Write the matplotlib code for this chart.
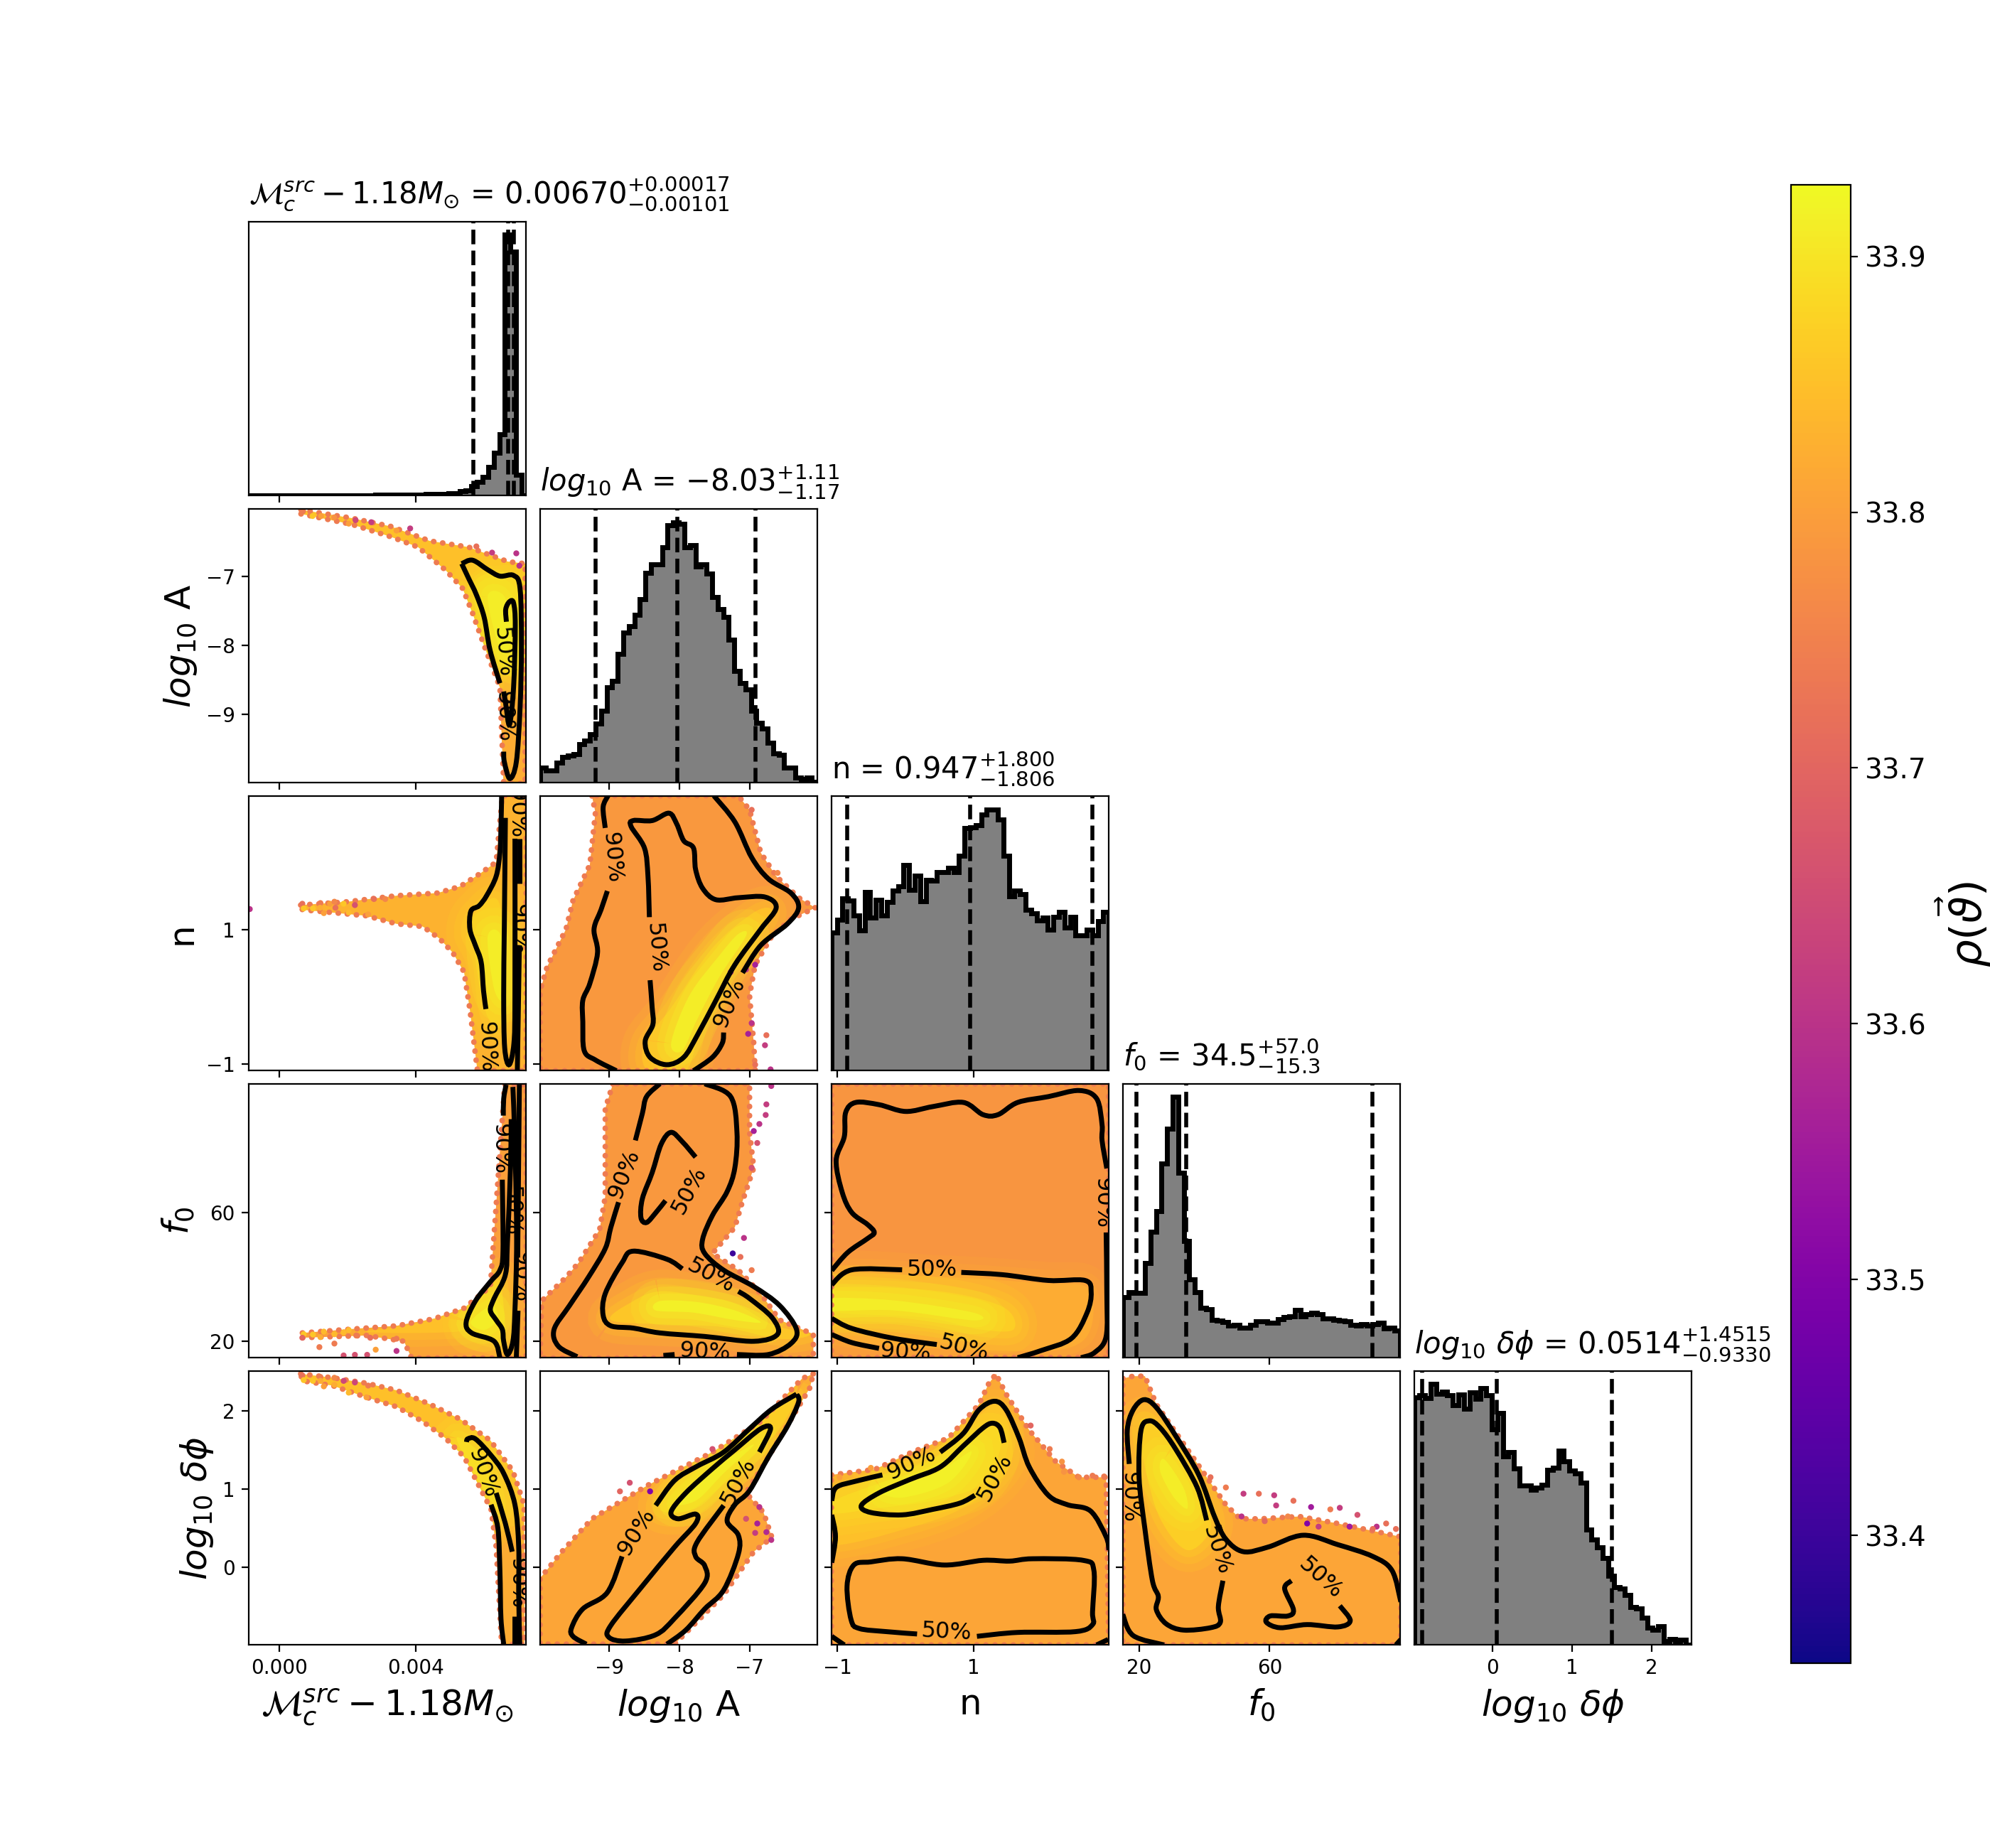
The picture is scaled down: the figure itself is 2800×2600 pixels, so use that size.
import numpy as np
import matplotlib
matplotlib.use("Agg")
import matplotlib.pyplot as plt
from matplotlib.path import Path
from matplotlib.patches import PathPatch, Polygon
from matplotlib.cm import ScalarMappable
from matplotlib.colors import Normalize

# ---------- axes ----------
names = [r"$\mathcal{M}_c^{src} - 1.18 M_{\odot}$", r"$log_{10}$ A", "n", r"$f_0$", r"$log_{10}\ \delta\phi$"]
limits = [(-0.0009, 0.00723), (-9.99, -6.03), (-1.09, 2.99), (15.0, 100.0), (-0.987, 2.505)]
ticks = [[0.0, 0.004], [-9, -8, -7], [-1, 1], [20, 60], [0, 1, 2]]
ticklabels = [["0.000", "0.004"], ["\u22129", "\u22128", "\u22127"], ["\u22121", "1"], ["20", "60"], ["0", "1", "2"]]
ylabel_x = [None, -0.18, -0.18, -0.19, -0.12]
titles = [r"$\mathcal{M}_c^{src} - 1.18 M_{\odot}$ = $0.00670^{+0.00017}_{-0.00101}$",
          r"$log_{10}$ A = $-8.03^{+1.11}_{-1.17}$",
          r"n = $0.947^{+1.800}_{-1.806}$",
          r"$f_0$ = $34.5^{+57.0}_{-15.3}$",
          r"$log_{10}\ \delta\phi$ = $0.0514^{+1.4515}_{-0.9330}$"]
quantiles = [[0.00569, 0.00670, 0.00687], [-9.20, -8.03, -6.92], [-0.859, 0.947, 2.747],
             [19.2, 34.5, 91.5], [-0.8816, 0.0514, 1.5029]]
rho_min, rho_max = 33.35, 33.928

# ---------- 1D histograms (bin counts) ----------
hist_Mc = [0]*23 + [1]*9 + [3, 3, 3, 3, 6, 6, 10, 12, 23, 33, 45, 70, 105, 150, 643, 602, 50, 0]
hist_Mc_range = (-0.00101, 0.00727)
hist_A = [38, 31, 31, 50, 63, 67, 70, 95, 103, 120, 145, 177, 235, 250, 318, 370, 385, 413, 452, 517, 538, 538, 580,
          635, 642, 638, 580, 585, 532, 538, 515, 457, 428, 408, 352, 275, 245, 230, 177, 147, 133, 98, 73, 68, 38,
          38, 13, 9, 13, 3]
hist_n = [345, 378, 431, 426, 388, 350, 446, 383, 428, 388, 421, 450, 461, 514, 453, 488, 424, 478, 476, 497, 497,
          508, 497, 538, 607, 610, 615, 641, 654, 654, 628, 538, 436, 451, 441, 403, 393, 375, 383, 353, 385, 397,
          358, 385, 338, 338, 353, 338, 373, 397]
hist_f0 = [151, 164, 161, 161, 236, 314, 366, 486, 573, 653, 463, 291, 196, 164, 124, 121, 94, 93, 88, 79, 81, 74,
           74, 81, 91, 91, 87, 87, 96, 101, 103, 118, 103, 108, 111, 108, 98, 98, 94, 93, 91, 81, 79, 84, 80, 83, 86,
           73, 75, 68]
hist_phi = [922, 930, 920, 972, 935, 945, 930, 893, 933, 880, 942, 917, 957, 930, 803, 865, 703, 718, 658, 595, 593,
            577, 587, 597, 652, 660, 725, 683, 650, 638, 605, 430, 393, 362, 323, 257, 215, 210, 185, 140, 135, 102,
            63, 55, 70, 13, 20, 8, 18, 0]

# ---------- sample-cloud outlines (x, y in data units) with mean rho ----------
A_Mc_env = [(.00063, -6.04), (.00211, -6.16), (.00326, -6.28), (.0044, -6.49), (.00554, -6.58), (.00669, -6.79), (.0072, -6.82),
            (.0072, -10), (.00657, -10), (.00646, -8.61), (.006, -8.01), (.00566, -7.54), (.00537, -7.18), (.00486, -6.91),
            (.00406, -6.58), (.00326, -6.43), (.00211, -6.25), (.00063, -6.1)]
A_Mc_low = [(.00657, -8.6), (.0072, -8.6), (.0072, -10.1), (.00657, -10.1)]
A_Mc_core = [(.0057, -7.1), (.0063, -6.95), (.007, -7.1), (.007, -8.3), (.0066, -8.4), (.0062, -7.9), (.006, -7.5)]
A_Mc_hot = [(.0061, -7.3), (.0066, -7.3), (.0068, -7.9), (.0065, -8.1)]
n_Mc_env = [(.00062, 1.37), (.00199, 1.42), (.00343, 1.51), (.00464, 1.55), (.0053, 1.65), (.00585, 1.83), (.00635, 2.01),
            (.00653, 3.0), (.00723, 3.0), (.00723, -1.1), (.0058, -1.1), (.00558, -.19), (.00541, .37), (.00508, .66),
            (.00469, .87), (.0042, 1.05), (.00343, 1.09), (.00255, 1.21), (.00067, 1.3)]
n_Mc_core = [(.00574, 1.26), (.00646, 1.37), (.00653, -.34), (.00607, -.26), (.00585, .55), (.00552, .94)]
n_Mc_hot = [(.0061, .9), (.0065, .9), (.0066, 0), (.0063, .1)]
f0_Mc_env = [(.00067, 22.6), (.00199, 23.7), (.00343, 24.8), (.00453, 27), (.00541, 30.3), (.00618, 37), (.0066, 99.7),
             (.00723, 99.7), (.00723, 14.8), (.00387, 14.8), (.00365, 20), (.00255, 21.8), (.00067, 21.1)]
f0_Mc_tail = [(.00255, 23), (.00387, 25.2), (.0053, 28.9), (.00552, 23.7), (.00419, 22.6)]
f0_Mc_core = [(.00547, 28.9), (.00607, 35.5), (.0064, 39.2), (.00653, 34.8), (.00662, 20), (.00629, 20), (.00552, 23)]
f0_Mc_hot = [(.0056, 26), (.0062, 31), (.0064, 27), (.006, 23.5)]
phi_Mc_env = [(.00062, 2.47), (.00155, 2.42), (.00255, 2.35), (.00343, 2.26), (.00442, 2.08), (.0053, 1.89), (.00618, 1.62),
              (.00684, 1.23), (.00717, .8), (.00717, -.98), (.00651, -.98), (.00635, .26), (.0062, .74), (.00541, 1.41),
              (.00486, 1.65), (.0042, 1.86), (.00343, 2.05), (.00255, 2.17), (.00155, 2.32), (.00067, 2.38)]
phi_Mc_low = [(.00645, 0.2), (.00717, 0.2), (.00717, -1.0), (.00645, -1.0)]
phi_Mc_core = [(.00519, 1.65), (.00585, 1.47), (.00629, 1.08), (.0064, .74), (.00574, 1.17)]

n_A_env = [(-9.25, 3.0), (-9.2, 2.75), (-9.28, 1.97), (-9.52, 1.44), (-9.62, 1.01), (-9.89, .45), (-9.99, .09), (-9.99, -1.1),
           (-6.92, -1.1), (-6.94, -.69), (-7.0, .02), (-6.92, .48), (-6.68, .91), (-6.41, 1.16), (-6.06, 1.33), (-6.3, 1.48),
           (-6.62, 1.8), (-6.84, 2.15), (-7.0, 2.79), (-7.16, 3.0)]
n_A_core = [(-8.45, -1.1), (-8.5, -.69), (-8.12, -.16), (-7.53, .73), (-6.94, 1.26), (-6.68, 1.3), (-6.78, 1.01), (-7.32, .37),
            (-7.69, -.41), (-7.91, -1.1)]
n_A_hot = [(-8.12, -.69), (-7.86, .02), (-7.43, .62), (-7.16, .94), (-7.05, .91), (-7.43, .3), (-7.75, -.34), (-7.96, -.8)]
f0_A_env = [(-8.95, 100), (-9.06, 92.3), (-9.06, 79), (-9.06, 65), (-9.14, 54.7), (-9.44, 44.4), (-9.62, 39.9), (-9.97, 32.5),
            (-9.99, 14.8), (-6.09, 14.8), (-6.09, 22.2), (-6.57, 26.6), (-6.84, 34.8), (-7.16, 42.1), (-7.53, 47.3),
            (-7.21, 55.4), (-7.1, 63.5), (-6.94, 73.9), (-7.0, 85), (-7.0, 100)]
f0_A_core = [(-8.98, 26.6), (-8.66, 32.5), (-8.28, 35.5), (-7.69, 34), (-7.21, 31.8), (-6.68, 25.2), (-6.14, 22.2), (-6.57, 20.7),
             (-7.37, 24.4), (-8.18, 25.2)]
f0_A_hot = [(-8.28, 32.5), (-7.75, 32.2), (-7.21, 29.6), (-6.84, 25.9), (-7.21, 26.6), (-7.8, 28.9), (-8.34, 29.6)]
phi_A_env = [(-6.09, 2.47), (-6.25, 2.41), (-6.84, 1.86), (-7.53, 1.47), (-8.45, 1.05), (-9.25, .62), (-9.68, .2), (-9.99, -.14),
             (-9.99, -.98), (-8.07, -.98), (-7.37, -.35), (-6.94, .2), (-6.68, .38), (-6.8, .7), (-7.05, .95), (-6.73, 1.41),
             (-6.14, 2.29)]
phi_A_core = [(-6.33, 2.21), (-6.84, 1.86), (-7.43, 1.44), (-8.07, 1.05), (-8.28, .74), (-7.91, .71), (-7.59, .89), (-7.0, 1.38),
              (-6.57, 1.77)]
phi_A_hot = [(-7.59, 1.23), (-7.96, .95), (-8.07, .8), (-7.75, .86), (-7.37, 1.2), (-6.94, 1.56), (-7.21, 1.44)]

f0_n_env = [(-1.09, 15), (2.99, 15), (2.99, 100), (-1.09, 100)]
f0_n_mid = [(-1.2, 40), (0.5, 40), (2.0, 38), (2.7, 36), (2.6, 20), (1.5, 17), (-1.2, 22)]
f0_n_core = [(-1.2, 36.4), (.4, 35.8), (1.42, 30.8), (1.59, 23.7), (1.08, 23.7), (.29, 27.4), (-1.2, 29.5)]
f0_n_hot = [(-1.2, 33.3), (-.17, 32.7), (1, 28.9), (1, 26.5), (-.17, 29.6), (-1.2, 29.6)]
phi_n_env = [(-1.09, 1.18), (-.45, 1.25), (.12, 1.48), (.63, 1.65), (1.08, 2.08), (1.22, 2.34), (1.33, 2.47), (1.48, 2.21),
             (1.82, 1.75), (2.21, 1.35), (2.55, 1.15), (2.95, 1.15), (2.99, -.99), (-1.09, -.99)]
phi_n_mid = [(-1.2, .89), (-.34, 1.15), (.51, 1.45), (1.14, 1.98), (1.36, 2.08), (1.53, 1.75), (1.53, 1.28), (.97, .82), (.12, .52),
             (-1.2, .29)]
phi_n_core = [(-1.05, .85), (-.34, 1.09), (.51, 1.35), (1.14, 1.78), (1.42, 1.65), (1.14, 1.08), (.4, .85), (-.45, .75), (-1.05, .69)]
phi_n_hot = [(-.34, .99), (.4, 1.18), (.97, 1.48), (.63, 1.08), (-.05, .89)]
phi_f0_env = [(15, 2.41), (18.2, 2.44), (21.8, 2.44), (25.3, 2.08), (33.6, 1.58), (41.9, 1.08), (46.6, .8), (51, .62), (57.3, .62),
              (69.1, .65), (80.9, .56), (100.2, .39), (100.2, -.99), (15, -.99)]
phi_f0_core = [(20, 1.8), (23.2, 1.88), (31.2, 1.51), (39.5, .89), (41.9, .49), (34.8, .22), (26.5, .62), (21.8, 1.28)]
phi_f0_hot = [(27.7, 1.38), (33.6, 1.02), (34.8, .75), (30.7, .89), (26.5, 1.22)]

# ---------- scattered outlying samples: x, y, rho ----------
dots_A_Mc = [(.00069, -6.06, 33.74), (.00097, -6.13, 33.86), (.00122, -6.13, 33.8), (.0016, -6.15, 33.78), (.00203, -6.24, 33.8),
             (.00223, -6.19, 33.64), (.00269, -6.22, 33.62), (.00343, -6.34, 33.8), (.00383, -6.31, 33.62), (.00577, -6.57, 33.72),
             (.00623, -6.66, 33.62), (.00694, -6.67, 33.6), (.00703, -6.85, 33.6)]
dots_n_Mc = [(.00067, 1.39, 33.72), (.00071, 1.32, 33.86), (.00098, 1.32, 33.86), (.0012, 1.4, 33.74), (.00119, 1.33, 33.82),
             (.0013, 1.25, 33.8), (.00148, 1.39, 33.8), (.00161, 1.42, 33.76), (.00164, 1.33, 33.72), (.00188, 1.39, 33.86),
             (.00203, 1.26, 33.84), (.00221, 1.37, 33.66), (.0026, 1.23, 33.8), (.00277, 1.46, 33.72), (.0031, 1.46, 33.76),
             (-.00087, 1.31, 33.6)]
dots_f0_Mc = [(.00071, 22.2, 33.86), (.00098, 22.1, 33.86), (.0012, 21.3, 33.82), (.0013, 23, 33.84), (.00161, 22.2, 33.84),
              (.00188, 22.8, 33.84), (.00203, 23.5, 33.84), (.00225, 21.8, 33.74), (.00067, 21.1, 33.7), (.00117, 18.2, 33.74),
              (.00161, 19.3, 33.74), (.00188, 15.6, 33.66), (.00221, 15.8, 33.66), (.00257, 15.8, 33.66), (.00282, 17.4, 33.8),
              (.00343, 17, 33.6), (.00266, 21.1, 33.72), (.00343, 20.8, 33.74)]
dots_phi_Mc = [(.00067, 2.45, 33.72), (.00071, 2.39, 33.86), (.00098, 2.38, 33.86), (.0012, 2.43, 33.74), (.0012, 2.38, 33.82),
               (.0013, 2.31, 33.8), (.00161, 2.42, 33.76), (.00161, 2.33, 33.82), (.00188, 2.38, 33.64), (.00203, 2.23, 33.84),
               (.00221, 2.36, 33.64), (.0026, 2.32, 33.74), (.00255, 2.17, 33.8)]
dots_n_A = [(-6.97, 2.79, 33.72), (-6.6, 1.85, 33.76), (-6.92, .48, 33.56), (-7.05, .41, 33.6), (-6.97, -.39, 33.6), (-7.02, -.55, 33.56),
            (-6.76, -.57, 33.72), (-6.78, -.72, 33.62), (-6.7, -1.08, 33.6), (-6.92, -1.01, 33.72), (-7.27, .37, 33.6)]
dots_f0_A = [(-6.69, 99.3, 33.6), (-6.76, 93.6, 33.62), (-6.77, 90.3, 33.62), (-6.86, 87.5, 33.6), (-6.94, 85.3, 33.56),
             (-6.89, 81.6, 33.66), (-6.97, 73.9, 33.66), (-7.08, 52.1, 33.6), (-7.24, 47.3, 33.4), (-7.13, 46.2, 33.72), (-6.97, 42.1, 33.74)]
dots_phi_A = [(-7.53, 1.51, 33.66), (-7.83, 1.26, 33.72), (-8.42, .97, 33.5), (-8.71, 1.08, 33.66), (-8.85, .97, 33.7),
              (-6.86, .77, 33.6), (-6.92, .44, 33.62), (-6.76, .45, 33.58), (-6.69, .35, 33.6), (-6.89, .56, 33.56), (-7.05, .62, 33.66)]
dots_phi_n = [(1.84, 1.81, 33.7), (2.12, 1.51, 33.74), (2.3, 1.35, 33.78), (2.55, 1.15, 33.76), (2.75, 1.17, 33.74), (2.92, 1.16, 33.74),
              (-.51, 1.27, 33.8), (-.73, 1.17, 33.84), (-.97, 1.15, 33.8), (2.33, 1.22, 33.78)]
dots_phi_f0 = [(41.9, 1.15, 33.72), (46.6, 1.02, 33.74), (52, .94, 33.62), (56.7, .94, 33.72), (61.4, .92, 33.62), (67.3, .85, 33.72),
               (62, .79, 33.62), (72.7, .77, 33.55), (78.6, .74, 33.74), (81.5, .76, 33.62), (86.9, .67, 33.66), (95.7, .56, 33.72),
               (92.8, .52, 33.6), (51.4, .65, 33.6), (58.5, .59, 33.7), (65.6, .65, 33.76), (71.5, .56, 33.5), (75, .52, 33.62),
               (84.5, .52, 33.55), (91.6, .49, 33.72), (98.7, .49, 33.72)]

# ---------- contour lines ----------
c_A_Mc = [
    [(.00534, -6.82), (.00566, -6.77), (.00611, -6.91), (.00646, -7.0), (.00686, -6.99), (.00705, -7.18), (.00709, -8.01), (.00705, -8.91),
     (.00694, -9.69), (.00675, -9.93), (.00659, -9.69), (.00657, -9.54)],
    [(.00646, -8.55), (.00617, -8.07), (.006, -7.6), (.00577, -7.27), (.00554, -7.03), (.00534, -6.82)],
    [(.00665, -7.66), (.00663, -7.48), (.00674, -7.37), (.00686, -7.39), (.00691, -7.72), (.00686, -8.61), (.00674, -9.15), (.00663, -8.85), (.00657, -8.67)],
]
l_A_Mc = [("50%", .00654, -8.1, -85), ("90%", .00657, -9.03, -88)]
c_n_Mc = [
    [(.00651, 3.0), (.00649, 2.51), (.00646, 2.15), (.00635, 1.8), (.00607, 1.51), (.00585, 1.36), (.00561, 1.28), (.00558, 1.01), (.00574, .77),
     (.00591, .52), (.00598, .09), (.00605, -.18)],
    [(.00662, 2.67), (.00659, 1.09), (.00657, .02), (.0066, -.76), (.00673, -1.01), (.00687, -.69), (.0069, .02), (.0069, 2.36)],
    [(.00703, 2.36), (.00703, 1.69)],
    [(.00703, .77), (.00697, -1.1)],
]
l_n_Mc = [("90%", .00605, -.75, -88), ("90%", .00699, 1.01, -90), ("90%", .00695, 2.75, -90)]
c_f0_Mc = [
    [(.00664, 99.7), (.00657, 95.3), (.00656, 90.1)],
    [(.00653, 70.2), (.00655, 48), (.00646, 42.1), (.00618, 38.5), (.00574, 32.5), (.00547, 25.9), (.00563, 22.6), (.00629, 20), (.00646, 14.8)],
    [(.00679, 89), (.00677, 73.9), (.00668, 50.6), (.00662, 40.7), (.00629, 33.3), (.00618, 29.6), (.00635, 26.6), (.00653, 23.7), (.00657, 20),
     (.00668, 15.9), (.00684, 20), (.0069, 29.6), (.00695, 51.7), (.0069, 81.3), (.00684, 99)],
    [(.00699, 29.5), (.00694, 14.8)],
    [(.00703, 99.7), (.00698, 46)],
]
l_f0_Mc = [("90%", .00646, 79.8, -90), ("50%", .00679, 60.6, -90), ("90%", .00707, 39.9, -90)]
c_phi_Mc = [
    [(.00548, 1.6), (.00552, 1.64), (.00574, 1.64), (.00618, 1.44), (.00657, 1.2), (.0069, .8), (.00701, .26), (.00701, -.35), (.00704, -.98)],
    [(.00635, .95), (.00662, .56), (.00682, .2)],
    [(.0062, .8), (.0064, .5), (.00646, -.05), (.00649, -.65), (.00657, -.98)],
    [(.00688, -.62), (.00688, -.98)],
]
l_phi_Mc = [("90%", .00596, 1.2, -70), ("90%", .00697, -.2, -90)]
c_n_A = [
    [(-9.02, 3), (-9.09, 2.83), (-9.06, 2.52)],
    [(-9.03, 1.58), (-9.12, 1.3), (-9.22, 1.01), (-9.17, .66), (-9.28, .2), (-9.38, -.05), (-9.38, -.37), (-9.36, -.8), (-9.2, -.94), (-8.9, -1.1)],
    [(-7.8, -1.1), (-7.53, -.9), (-7.39, -.69), (-7.37, -.53)],
    [(-7.1, .36), (-6.84, .77), (-6.46, 1.09), (-6.3, 1.33), (-6.41, 1.55), (-6.73, 1.76), (-6.97, 2.08), (-7.21, 2.61), (-7.51, 3.0)],
    [(-8.42, .25), (-8.39, -.16), (-8.38, -.41), (-8.49, -.66), (-8.42, -.9), (-8.18, -1.01), (-7.94, -.9), (-7.75, -.58), (-7.48, -.05),
     (-7.21, .48), (-6.84, 1.01), (-6.62, 1.33), (-6.78, 1.49), (-7.16, 1.48), (-7.48, 1.45), (-7.67, 1.62), (-7.77, 1.9), (-7.8, 2.22),
     (-7.94, 2.33), (-8.04, 2.58), (-8.15, 2.74), (-8.39, 2.63), (-8.66, 2.63), (-8.69, 2.54), (-8.5, 2.22), (-8.45, 1.8), (-8.43, 1.19)],
]
l_n_A = [("50%", -8.34, .73, -85), ("90%", -8.97, 2.08, -85), ("90%", -7.29, -.09, 68)]
c_f0_A = [
    [(-8.28, 100), (-8.47, 96), (-8.53, 90.8), (-8.63, 82.4)],
    [(-8.87, 63.2), (-8.98, 55.4), (-9.06, 48.8), (-9.3, 39.9), (-9.57, 31.1), (-9.79, 23.7), (-9.73, 18.5), (-9.46, 15.2)],
    [(-8.23, 15.6), (-8.07, 15.9)],
    [(-7.18, 15.9), (-6.73, 15.9), (-6.41, 19.3), (-6.33, 23.7), (-6.57, 31.1), (-6.94, 37), (-7.37, 42.1), (-7.64, 47.3), (-7.67, 51.7),
     (-7.53, 59.1), (-7.32, 66.5), (-7.21, 73.9), (-7.18, 84.9), (-7.27, 96), (-7.64, 100)],
    [(-7.77, 77.2), (-7.96, 82), (-8.12, 84.9), (-8.26, 81.3), (-8.39, 72.4), (-8.53, 64.3), (-8.55, 58.4), (-8.47, 56.9), (-8.34, 59.9), (-8.2, 63.7)],
    [(-7.96, 42.5), (-8.18, 45.5), (-8.66, 48), (-8.82, 44.4), (-9.06, 34.8), (-9.09, 28.1), (-8.98, 24.8), (-8.66, 24.1), (-8.28, 22.6),
     (-7.64, 21.5), (-6.94, 20), (-6.6, 22.2), (-6.68, 27.4), (-7.0, 33.3), (-7.16, 35.5)],
]
l_f0_A = [("90%", -8.79, 72, 68), ("50%", -7.86, 66.9, 62), ("50%", -7.56, 40.3, -28), ("90%", -7.64, 16.7, -3)]
c_phi_A = [
    [(-6.33, 2.21), (-6.68, 2.02), (-7.0, 1.77), (-7.37, 1.47), (-7.75, 1.29), (-8.07, 1.11), (-8.34, .79)],
    [(-8.82, .14), (-9.03, -.32), (-9.38, -.53), (-9.54, -.77), (-9.52, -.88), (-9.33, -.98)],
    [(-8.18, -.98), (-7.91, -.8), (-7.64, -.53), (-7.37, -.29), (-7.16, .17), (-7.16, .41), (-7.32, .59), (-7.21, .8), (-7.0, .98),
     (-6.73, 1.41), (-6.46, 1.8), (-6.3, 2.11), (-6.33, 2.21)],
    [(-6.86, 1.47), (-6.7, 1.77), (-6.84, 1.77), (-7.21, 1.5), (-7.53, 1.26), (-7.91, .95), (-8.12, .71), (-8.02, .62), (-7.77, .68), (-7.77, .56),
     (-8.07, .26), (-8.55, -.26), (-8.98, -.74), (-9.01, -.89), (-8.77, -.94), (-8.34, -.86), (-8.07, -.65), (-7.64, -.2), (-7.64, .02),
     (-7.77, .14), (-7.75, .32), (-7.37, .79)],
]
l_phi_A = [("90%", -8.61, .45, 58), ("50%", -7.16, 1.09, 62)]
c_f0_n = [
    [(-1.085, 42), (-.85, 47.6), (-.56, 51.9), (-.46, 53.8), (-.56, 56.3), (-.79, 60), (-.93, 66.2), (-1.02, 76.1), (-.9, 83.6), (-.88, 91.1),
     (-.73, 94.2), (-.39, 93.5), (0, 91.4), (.4, 92.9), (.85, 94.2), (1.14, 90.4), (1.36, 90.4), (1.65, 94.2), (2.1, 96), (2.55, 97.9),
     (2.81, 95.4), (2.89, 87.3), (2.89, 82.4), (2.96, 73.7)],
    [(2.95, 53.8), (2.96, 35.2), (2.95, 21.5), (2.78, 16.5), (2.58, 14.9)],
    [(1.65, 14.9), (1.99, 17.1), (2.44, 20.9), (2.67, 28.9), (2.73, 35.2), (2.64, 38.9), (2.1, 38.9), (1.42, 40.7), (.82, 41.4)],
    [(-.05, 42.2), (-.79, 42.2), (-1.085, 37.6)],
    [(-1.085, 27.1), (-.79, 24), (-.17, 20.9), (.46, 19)],
    [(-1.085, 22.1), (-.79, 19.6), (-.39, 17.8)],
]
l_f0_n = [("50%", .39, 42.2, 0), ("50%", .86, 17.8, -15), ("90%", 0, 16.5, -4), ("90%", 2.89, 63, -90)]
c_phi_n = [
    [(-1.085, .85), (-1.02, 1.02), (-.73, 1.1), (-.34, 1.18)],
    [(.51, 1.47), (.85, 1.71), (1.08, 2.01), (1.31, 2.12), (1.48, 2.01), (1.67, 1.65), (1.82, 1.28), (2.1, .92), (2.38, .8), (2.72, .72),
     (2.95, .39), (2.99, .22)],
    [(-1.085, .67), (-1.03, .39), (-1.085, .06)],
    [(-1.085, -.88), (-.9, -.99)],
    [(2.81, -.99), (2.98, -.92)],
    [(1.45, 1.59), (1.39, 1.78), (1.28, 1.84), (1.14, 1.78), (.85, 1.55), (.51, 1.28), (.06, 1.12), (-.39, .95), (-.65, .79), (-.51, .7), (-.05, .67),
     (.4, .74), (.8, .82), (1.02, .92)],
    [(.17, -.85), (-.28, -.82), (-.68, -.78), (-.8, -.67), (-.86, -.24), (-.76, .03), (-.51, .07), (-.05, .11), (.57, .03), (1.14, .09), (1.53, .08),
     (1.87, .11), (2.61, .09), (2.77, -.04), (2.75, -.57), (2.75, -.73), (2.5, -.82), (1.65, -.83), (1.05, -.88)],
]
l_phi_n = [("90%", .09, 1.32, 25), ("50%", 1.31, 1.15, 62), ("50%", .6, -.83, -3)]
c_phi_f0 = [
    [(17, 1.32), (16.4, 1.75), (18.2, 2.01), (21.5, 2.14), (25.3, 2.04), (31.2, 1.68), (38.3, 1.18), (43.1, .65), (46.6, .36), (52, .2), (59.6, .26),
     (70.3, .41), (80.9, .29), (91.6, .14), (97.5, -.04), (100.2, -.44)],
    [(15, -.6), (18.2, -.87), (27.7, -.99)],
    [(100.2, -.92), (98.7, -.99)],
    [(40.7, .6), (37.8, 1.02), (31.2, 1.51), (26.5, 1.78), (23.2, 1.87), (20.6, 1.75), (20, 1.15), (21.8, .49), (24.1, -.17), (25.9, -.37),
     (25.3, -.54), (28.3, -.72), (33.6, -.8), (41.9, -.77), (44.9, -.7), (44.3, -.5), (45.7, -.17)],
    [(66.7, -.17), (64.6, -.27), (67.3, -.54), (65.6, -.62), (60.2, -.62), (59, -.7), (63.2, -.77), (71.5, -.73), (80.9, -.76), (84.7, -.68), (81.5, -.49)],
]
l_phi_f0 = [("50%", 43.7, .22, -72), ("50%", 75.6, -.14, -42), ("90%", 17, .89, -90)]

# panel table: (row, col) -> cloud layers (outline, rho), dots, contours, labels
panels = {
    (1, 0): ([(A_Mc_env, 33.85), (A_Mc_low, 33.82), (A_Mc_core, 33.88), (A_Mc_hot, 33.91)], dots_A_Mc, c_A_Mc, l_A_Mc),
    (2, 0): ([(n_Mc_env, 33.83), (n_Mc_core, 33.87), (n_Mc_hot, 33.91)], dots_n_Mc, c_n_Mc, l_n_Mc),
    (3, 0): ([(f0_Mc_env, 33.8), (f0_Mc_tail, 33.85), (f0_Mc_core, 33.87), (f0_Mc_hot, 33.91)], dots_f0_Mc, c_f0_Mc, l_f0_Mc),
    (4, 0): ([(phi_Mc_env, 33.85), (phi_Mc_low, 33.82), (phi_Mc_core, 33.89)], dots_phi_Mc, c_phi_Mc, l_phi_Mc),
    (2, 1): ([(n_A_env, 33.79), (n_A_core, 33.85), (n_A_hot, 33.91)], dots_n_A, c_n_A, l_n_A),
    (3, 1): ([(f0_A_env, 33.79), (f0_A_core, 33.86), (f0_A_hot, 33.915)], dots_f0_A, c_f0_A, l_f0_A),
    (4, 1): ([(phi_A_env, 33.81), (phi_A_core, 33.87), (phi_A_hot, 33.91)], dots_phi_A, c_phi_A, l_phi_A),
    (3, 2): ([(f0_n_env, 33.785), (f0_n_mid, 33.82), (f0_n_core, 33.87), (f0_n_hot, 33.91)], [], c_f0_n, l_f0_n),
    (4, 2): ([(phi_n_env, 33.81), (phi_n_mid, 33.85), (phi_n_core, 33.885), (phi_n_hot, 33.915)], dots_phi_n, c_phi_n, l_phi_n),
    (4, 3): ([(phi_f0_env, 33.81), (phi_f0_core, 33.87), (phi_f0_hot, 33.91)], dots_phi_f0, c_phi_f0, l_phi_f0),
}
histograms = [hist_Mc, hist_A, hist_n, hist_f0, hist_phi]

cmap = plt.get_cmap("plasma")
norm = Normalize(rho_min, rho_max)


def smooth_path(pts, closed=False):
    """Bezier path through the read-off knots, so the line is drawn as a curve."""
    p = np.asarray(pts, float)
    n = len(p)
    if n < 3:
        return Path(p)
    if closed:
        idx = lambda i: p[i % n]
        segs = n
    else:
        idx = lambda i: p[min(max(i, 0), n - 1)]
        segs = n - 1
    verts = [p[0]]
    codes = [Path.MOVETO]
    for i in range(segs):
        p0, p1, p2, p3 = idx(i - 1), idx(i), idx(i + 1), idx(i + 2)
        verts += [p1 + (p2 - p0) / 6, p2 - (p3 - p1) / 6, p2]
        codes += [Path.CURVE4] * 3
    return Path(np.array(verts), codes)


fig, axes = plt.subplots(5, 5, figsize=(14, 13), dpi=200)
fig.subplots_adjust(left=0.125, right=0.85, bottom=0.11, top=0.88, wspace=0.05, hspace=0.05)

for r in range(5):
    for c in range(5):
        ax = axes[r, c]
        if c > r:
            ax.axis("off")
            continue
        ax.set_xlim(limits[c])
        ax.set_xticks(ticks[c])
        ax.set_xticklabels(ticklabels[c] if r == 4 else [], fontsize=10)
        if r == c:
            vals = np.array(histograms[c], float)
            lo, hi = hist_Mc_range if c == 0 else limits[c]
            edges = np.linspace(lo, hi, len(vals) + 1)
            ax.stairs(vals, edges, fill=True, color="gray")
            ax.stairs(vals, edges, color="black", lw=2.5, baseline=0)
            for q in quantiles[c]:
                ax.axvline(q, color="black", ls="--", lw=2)
            ax.set_ylim(0, vals.max() * 1.05)
            ax.set_yticks([])
            ax.set_title(titles[c], loc="left", fontsize=15, pad=9)
        else:
            ax.set_ylim(limits[r])
            ax.set_yticks(ticks[r])
            ax.set_yticklabels(ticklabels[r] if c == 0 else [], fontsize=10)
            layers, dots, lines, labels = panels[(r, c)]
            env = None
            for k, (outline, rho) in enumerate(layers):
                col = cmap(norm(rho))
                if k == 0:
                    env = Polygon(outline, closed=True, fc=col, ec="none", zorder=1)
                    ax.add_patch(env)
                    xs, ys = zip(*outline)
                    ax.plot(list(xs) + [xs[0]], list(ys) + [ys[0]], color=cmap(norm(33.74)), lw=2.8,
                            ls=(0, (0.05, 1.6)), dash_capstyle="round", zorder=1.9)
                else:
                    path = smooth_path(outline, closed=True)
                    for lw, a in ((22, .18), (14, .25), (7, .35)):
                        p = PathPatch(path, fc="none", ec=col, lw=lw, alpha=a, zorder=1 + k * .1)
                        ax.add_patch(p)
                        p.set_clip_path(env)
                    p = PathPatch(path, fc=col, ec="none", zorder=1 + k * .1)
                    ax.add_patch(p)
                    p.set_clip_path(env)
            if dots:
                dx, dy, dr = zip(*dots)
                ax.scatter(dx, dy, c=dr, cmap=cmap, norm=norm, s=9, lw=0, zorder=2)
            for pts in lines:
                ax.add_patch(PathPatch(smooth_path(pts), fc="none", ec="black", lw=2.5, capstyle="butt", zorder=5))
            for txt, x, y, rot in labels:
                ax.text(x, y, txt, fontsize=11.5, rotation=rot, rotation_mode="anchor", ha="center", va="center",
                        zorder=6, clip_on=True)
        if r == 4:
            ax.set_xlabel(names[c], fontsize=18)
            ax.xaxis.set_label_coords(0.5, -0.155)
        if c == 0 and r > 0:
            ax.set_ylabel(names[r], fontsize=18)
            ax.yaxis.set_label_coords(ylabel_x[r], 0.5)

cax = fig.add_axes([0.9, 0.1, 0.03, 0.8])
cb = fig.colorbar(ScalarMappable(norm=norm, cmap=cmap), cax=cax, ticks=[33.4, 33.5, 33.6, 33.7, 33.8, 33.9])
cb.ax.tick_params(labelsize=14)
cb.set_label(r"$\rho(\vec{\vartheta})$", fontsize=22, labelpad=4)

fig.savefig("out.png", dpi=200)
